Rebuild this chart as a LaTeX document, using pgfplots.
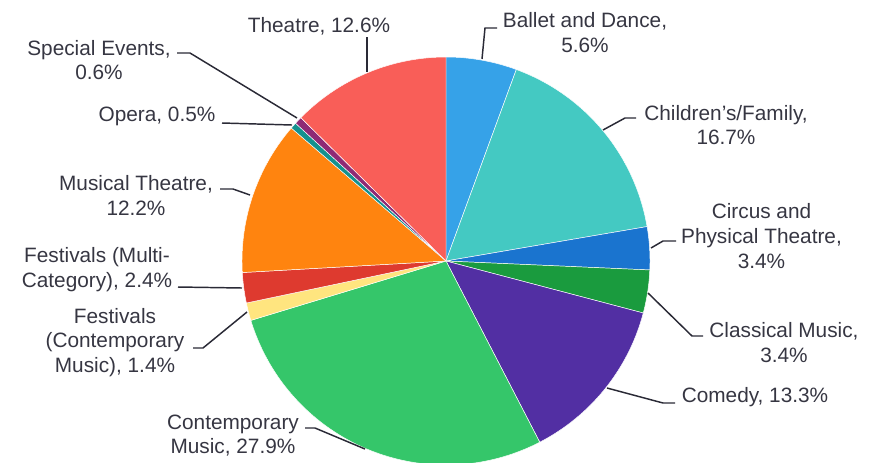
\documentclass[border=0pt]{standalone}
\usepackage{pgfplots}
\pgfplotsset{compat=1.18}
\usepackage{fontspec}
\setmainfont{Liberation Sans}
\definecolor{cBallet}{HTML}{36A2E8}
\definecolor{cChild}{HTML}{44C9C2}
\definecolor{cCircus}{HTML}{1A74CF}
\definecolor{cClass}{HTML}{1A9B3E}
\definecolor{cComedy}{HTML}{522FA3}
\definecolor{cContemp}{HTML}{35C66A}
\definecolor{cFestCM}{HTML}{FFE57F}
\definecolor{cFestMC}{HTML}{DE3A2F}
\definecolor{cMusical}{HTML}{FF840F}
\definecolor{cOpera}{HTML}{14918E}
\definecolor{cSpecial}{HTML}{8E2A75}
\definecolor{cTheatre}{HTML}{F95E58}
\definecolor{txt}{HTML}{363642}
\definecolor{lead}{HTML}{2A2A36}
\def\cum{0}
\newcommand\slice[2]{%
  \pgfmathsetmacro\angA{90-3.6*\cum}%
  \pgfmathsetmacro\newcum{\cum+#1}%
  \pgfmathsetmacro\angB{90-3.6*\newcum}%
  \edef\doslice{\noexpand\addplot[fill=#2, draw=white, line width=0.35pt, domain=\angB:\angA, samples=90, variable=\noexpand\t] ({446+204*cos(\noexpand\t)},{261-204*sin(\noexpand\t)}) -- (axis cs:446,261) -- cycle;}%
  \doslice
  \global\let\cum\newcum
}
\begin{document}
\begin{tikzpicture}
\begin{axis}[
  scale only axis, width=659.25pt, height=346.5pt,
  xmin=0, xmax=879, ymin=0, ymax=462, y dir=reverse,
  hide axis, enlargelimits=false, clip=true,
]
% values (percent), clockwise from 12 o'clock
\slice{5.6}{cBallet}
\slice{16.7}{cChild}
\slice{3.4}{cCircus}
\slice{3.4}{cClass}
\slice{13.3}{cComedy}
\slice{27.9}{cContemp}
\slice{1.4}{cFestCM}
\slice{2.4}{cFestMC}
\slice{12.2}{cMusical}
\slice{0.5}{cOpera}
\slice{0.6}{cSpecial}
\slice{12.6}{cTheatre}
% leader lines
\pgfplotsset{every axis plot/.append style={}}
\addplot[lead, line width=1.1pt, no marks] coordinates {(367,37) (367,72)};
\addplot[lead, line width=1.1pt, no marks] coordinates {(177,53) (190,53) (297,118)};
\addplot[lead, line width=1.1pt, no marks] coordinates {(222,123) (292,125)};
\addplot[lead, line width=1.1pt, no marks] coordinates {(220,189) (233,189) (250,195)};
\addplot[lead, line width=1.1pt, no marks] coordinates {(178,287) (242,288)};
\addplot[lead, line width=1.1pt, no marks] coordinates {(193,348) (203,348) (247,312)};
\addplot[lead, line width=1.1pt, no marks] coordinates {(305,428) (315,428) (365,449)};
\addplot[lead, line width=1.1pt, no marks] coordinates {(607,388) (663,403) (675,403)};
\addplot[lead, line width=1.1pt, no marks] coordinates {(648,293) (692,336) (703,336)};
\addplot[lead, line width=1.1pt, no marks] coordinates {(651,248) (663,241) (676,241)};
\addplot[lead, line width=1.1pt, no marks] coordinates {(603,130) (625,118) (636,118)};
\addplot[lead, line width=1.1pt, no marks] coordinates {(482,59) (485,28) (497,28)};
% labels
\tikzset{lbl/.style={text=txt, inner sep=0pt, align=center, font=\fontsize{15.6}{18.6}\selectfont}}
\node[lbl] at (axis cs:319,26) {Theatre, 12.6\%};
\node[lbl] at (axis cs:99,60) {Special Events,\\0.6\%};
\node[lbl] at (axis cs:157,116) {Opera, 0.5\%};
\node[lbl] at (axis cs:136,195.5) {Musical Theatre,\\12.2\%};
\node[lbl] at (axis cs:97,269.5) {Festivals (Multi-\\Category), 2.4\%};
\node[lbl] at (axis cs:115,342.5) {Festivals\\(Contemporary\\Music), 1.4\%};
\node[lbl] at (axis cs:233,435.5) {Contemporary\\Music, 27.9\%};
\node[lbl] at (axis cs:755,397) {Comedy, 13.3\%};
\node[lbl] at (axis cs:784,342.5) {Classical Music,\\3.4\%};
\node[lbl] at (axis cs:761.5,236) {Circus and\\Physical Theatre,\\3.4\%};
\node[lbl] at (axis cs:726,125) {Children’s/Family,\\16.7\%};
\node[lbl] at (axis cs:585,32.5) {Ballet and Dance,\\5.6\%};
\end{axis}
\useasboundingbox (current axis.south west) rectangle (current axis.north east);
\end{tikzpicture}
\end{document}
